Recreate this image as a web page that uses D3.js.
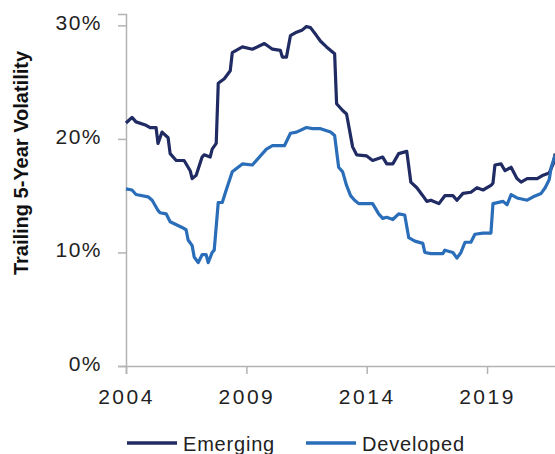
<!DOCTYPE html>
<html>
<head>
<meta charset="utf-8">
<script src="https://cdn.jsdelivr.net/npm/d3@7"></script>
<style>
  body { margin: 0; background: #fff; }
  svg { display: block; font-family: "Liberation Sans", Arial, sans-serif; }
  .tick text { fill: #222; }
</style>
</head>
<body>
<div id="chart"></div>
<script>
// ---------- DATA ----------
const emergingDates = [
  "2004-01","2004-04","2004-06","2004-11","2005-01","2005-04","2005-05","2005-07","2005-10","2005-11",
  "2006-02","2006-06","2006-09","2006-10","2006-12","2007-03","2007-04","2007-07","2007-08","2007-10",
  "2007-11","2008-02","2008-05","2008-06","2008-11","2009-04","2009-10","2010-02","2010-06","2010-07",
  "2010-09","2010-11","2011-02","2011-05","2011-07","2011-09","2011-12","2012-02","2012-05","2012-09",
  "2012-10","2013-01","2013-03","2013-06","2013-08","2014-01","2014-04","2014-09","2014-11","2015-02",
  "2015-05","2015-09","2015-11","2016-02","2016-05","2016-07","2016-09","2017-01","2017-04","2017-08",
  "2017-10","2018-01","2018-05","2018-08","2018-11","2019-03","2019-04","2019-05","2019-08","2019-10",
  "2020-01","2020-04","2020-06","2020-09","2021-02","2021-05","2021-08","2021-10","2021-11"
];
const emergingValues = [
  21.4,21.9,21.5,21.2,21.0,21.0,19.6,20.6,20.1,18.7,
  18.1,18.1,17.2,16.5,16.8,18.4,18.6,18.4,19.1,19.6,
  24.9,25.3,26.0,27.6,28.1,27.9,28.4,27.9,27.8,27.2,
  27.2,29.1,29.4,29.6,29.9,29.8,29.1,28.6,28.1,27.5,
  23.1,22.5,22.2,19.3,18.6,18.5,18.1,18.4,17.8,17.8,
  18.7,18.9,16.2,15.7,15.0,14.5,14.6,14.3,15.0,15.0,
  14.6,15.2,15.3,15.7,15.5,15.9,16.1,17.7,17.8,17.2,
  17.5,16.5,16.2,16.5,16.5,16.8,17.0,17.8,18.7
];
const developedDates = [
  "2004-01","2004-04","2004-06","2004-12","2005-02","2005-05","2005-06","2005-09","2005-11","2006-05",
  "2006-07","2006-08","2006-10","2006-11","2007-01","2007-03","2007-05","2007-06","2007-08","2007-09",
  "2007-11","2008-01","2008-03","2008-06","2008-11","2009-04","2009-11","2010-02","2010-08","2010-11",
  "2011-02","2011-07","2011-10","2012-02","2012-07","2012-09","2012-11","2013-01","2013-03","2013-05",
  "2013-07","2013-09","2014-04","2014-07","2014-09","2014-11","2015-02","2015-05","2015-08","2015-10",
  "2016-01","2016-05","2016-06","2016-09","2017-03","2017-04","2017-08","2017-10","2017-12","2018-02",
  "2018-05","2018-07","2018-11","2019-03","2019-04","2019-09","2019-11","2020-01","2020-04","2020-09",
  "2020-12","2021-04","2021-06","2021-08","2021-09","2021-11"
];
const developedValues = [
  15.6,15.5,15.1,14.9,14.6,13.7,13.5,13.4,12.7,12.2,
  12.0,11.1,10.6,9.6,9.1,9.8,9.8,9.1,10.0,10.2,
  14.4,14.4,15.5,17.1,17.8,17.7,19.1,19.4,19.4,20.5,
  20.6,21.0,20.9,20.9,20.6,20.3,17.5,17.1,15.9,15.0,
  14.6,14.3,14.3,13.4,13.0,13.1,12.9,13.4,13.3,11.3,
  11.0,10.8,10.0,9.9,9.9,10.2,10.0,9.5,10.0,10.9,
  10.9,11.6,11.7,11.7,14.3,14.5,14.2,15.1,14.8,14.6,
  14.9,15.2,15.7,16.4,17.5,18.6
];
const seriesNames = ["Emerging", "Developed"];
const seriesColors = ["#1f2b62", "#2a6db8"];
const xTickYears = [2004, 2009, 2014, 2019];
const yTickValues = [0, 10, 20, 30];
const yTitle = "Trailing 5-Year Volatility";

// ---------- CHART ----------
const size = { w: 555, h: 454 };
const parseMonth = d3.timeParse("%Y-%m");

const series = [
  emergingDates.map((d, i) => ({ date: parseMonth(d), value: emergingValues[i] })),
  developedDates.map((d, i) => ({ date: parseMonth(d), value: developedValues[i] })),
];

const svg = d3
  .select("#chart")
  .append("svg")
  .attr("width", size.w)
  .attr("height", size.h);

const xScale = d3
  .scaleTime()
  .domain([new Date(2004, 0, 1), new Date(2022, 0, 1)])
  .range([126, 126 + 18 * 24.07]);

const yScale = d3.scaleLinear().domain([0, 31]).range([366, 14]);

// y axis
const yAxis = svg
  .append("g")
  .attr("transform", "translate(126,0)")
  .call(
    d3.axisLeft(yScale)
      .tickValues(yTickValues)
      .tickSize(8)
      .tickPadding(16)
      .tickFormat((d) => d + "%")
  );
yAxis.select(".domain").attr("stroke", "#b3b3b3").attr("stroke-width", 1.5);
yAxis.selectAll(".tick line").attr("stroke", "#b3b3b3").attr("stroke-width", 1.5);
yAxis
  .selectAll(".tick text")
  .attr("font-size", 21)
  .attr("letter-spacing", 1.5)
  .attr("dy", "0.2em");

// x axis
const xAxis = svg
  .append("g")
  .attr("transform", `translate(0,${yScale(0)})`)
  .call(
    d3.axisBottom(xScale)
      .tickValues(xTickYears.map((y) => new Date(y, 0, 1)))
      .tickSize(8)
      .tickPadding(15)
      .tickFormat(d3.timeFormat("%Y"))
  );
xAxis.select(".domain").attr("stroke", "#b3b3b3").attr("stroke-width", 1.5);
xAxis.selectAll(".tick line").attr("stroke", "#b3b3b3").attr("stroke-width", 1.5);
xAxis
  .selectAll(".tick text")
  .attr("font-size", 21)
  .attr("letter-spacing", 2.5);

// y title
svg
  .append("text")
  .attr("transform", "translate(28,163) rotate(-90)")
  .attr("text-anchor", "middle")
  .attr("font-size", 20)
  .attr("font-weight", "bold")
  .attr("fill", "#111")
  .text(yTitle);

// lines
const line = d3
  .line()
  .x((d) => xScale(d.date))
  .y((d) => yScale(d.value));

svg
  .append("g")
  .selectAll("path")
  .data(series)
  .join("path")
  .attr("d", line)
  .attr("fill", "none")
  .attr("stroke", (d, i) => seriesColors[i])
  .attr("stroke-width", 3.2)
  .attr("stroke-linejoin", "round");

// legend
const legendX = [127, 306];
const legend = svg
  .append("g")
  .selectAll("g")
  .data(seriesNames)
  .join("g")
  .attr("transform", (d, i) => `translate(${legendX[i]},443)`);
legend
  .append("line")
  .attr("x1", 0)
  .attr("x2", 50)
  .attr("stroke", (d, i) => seriesColors[i])
  .attr("stroke-width", 3.5);
legend
  .append("text")
  .attr("x", 56)
  .attr("y", 7.5)
  .attr("font-size", 20)
  .attr("letter-spacing", 0.8)
  .attr("fill", "#222")
  .text((d) => d);
</script>
</body>
</html>
